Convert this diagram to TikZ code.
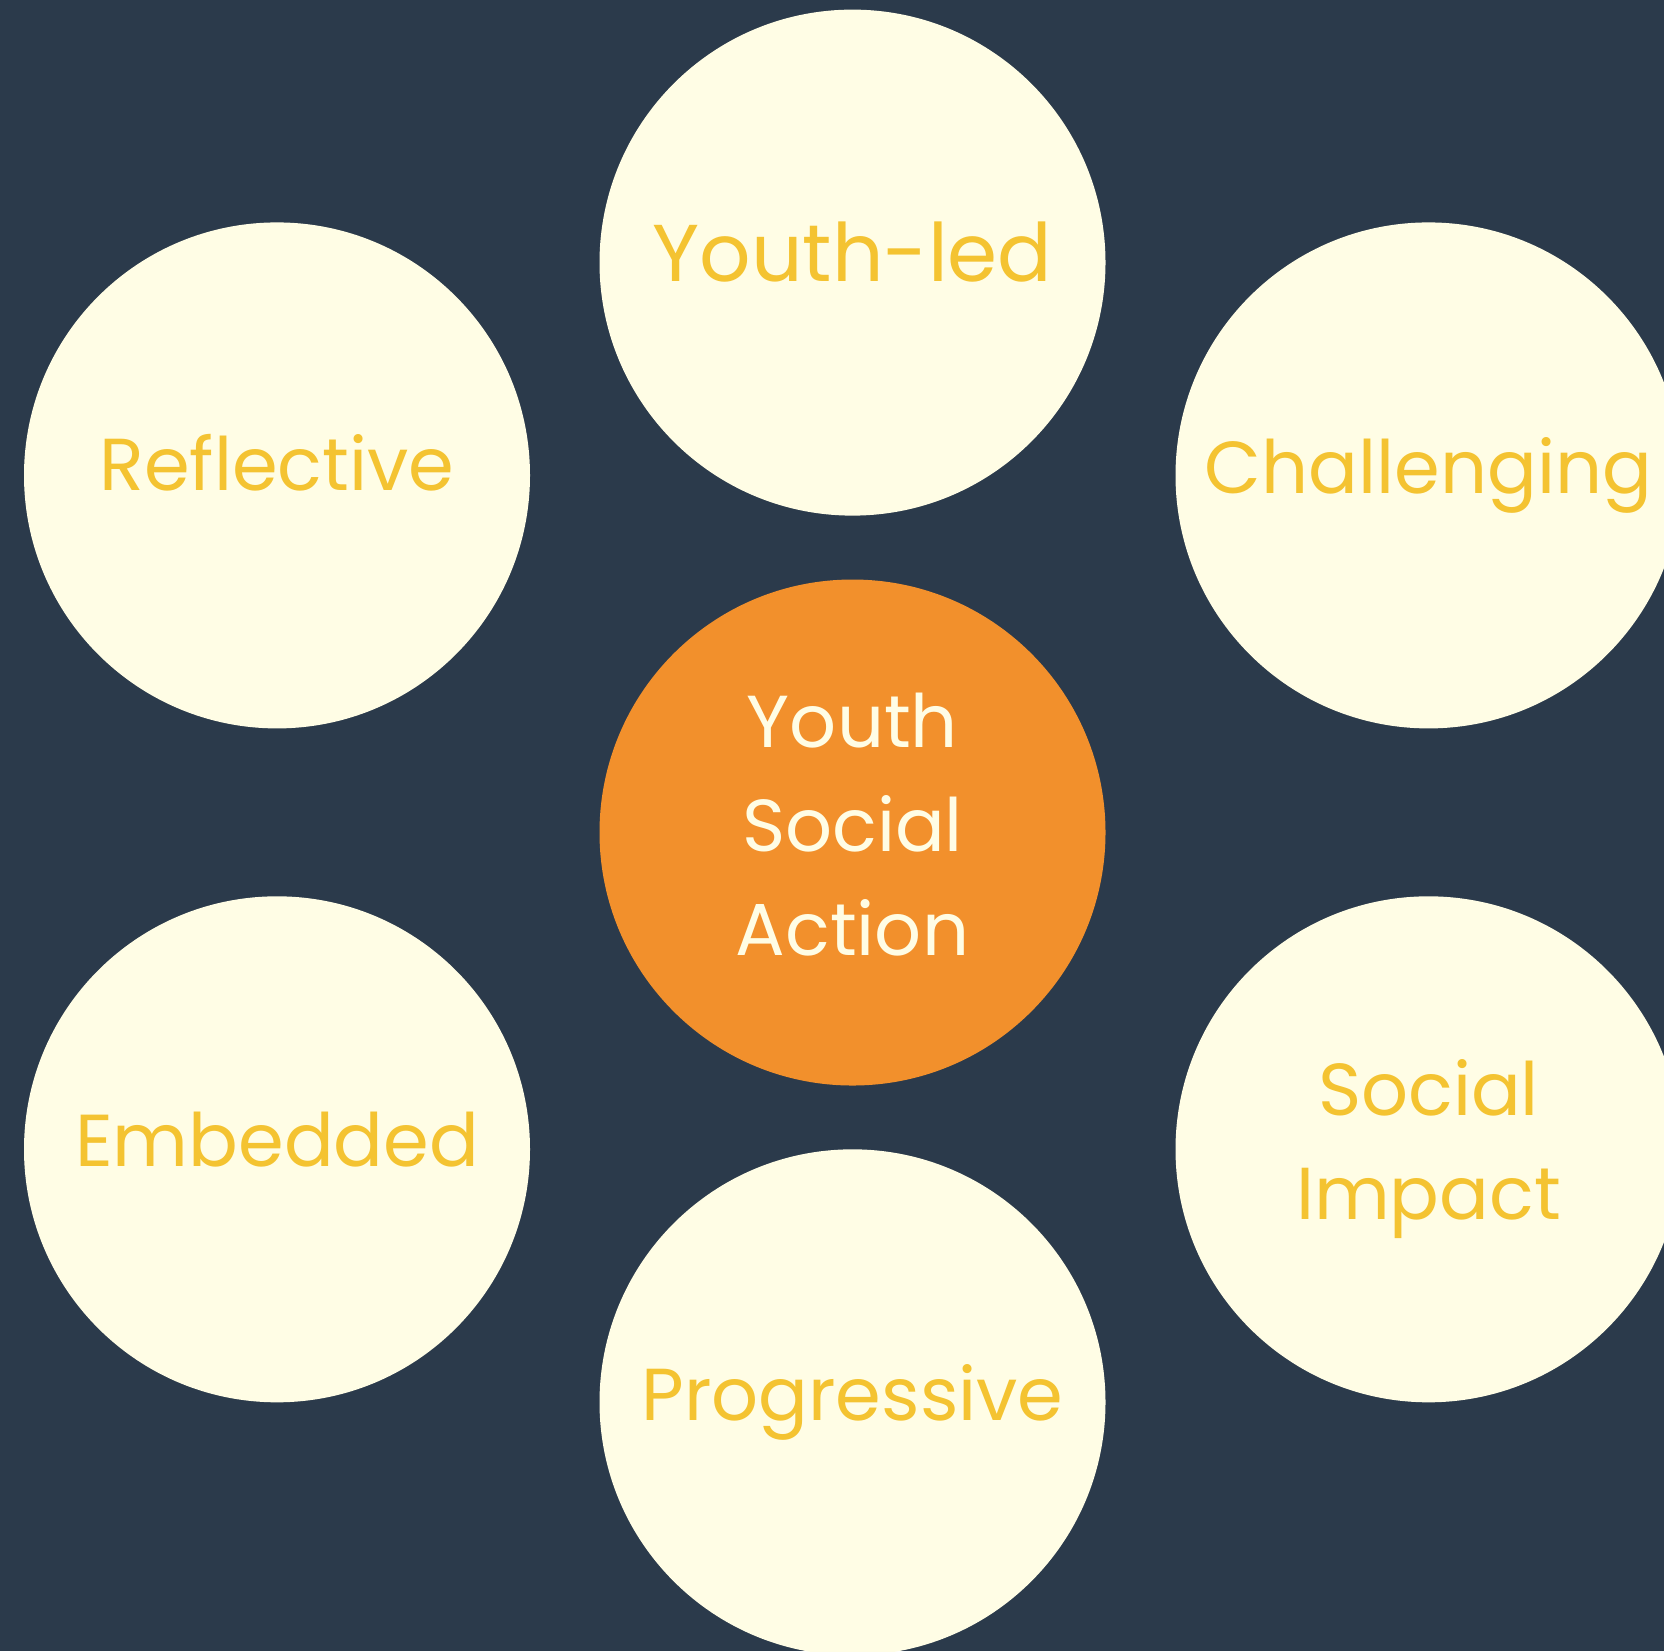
\documentclass[tikz,border=0pt]{standalone}
\usepackage{fontspec}
\setmainfont{Poppins}
\definecolor{bgnavy}{HTML}{2B3A4B}
\definecolor{cream}{HTML}{FFFDE5}
\definecolor{gold}{HTML}{F4C331}
\definecolor{pumpkin}{HTML}{F2902C}
\def\diam{253pt}
\tikzset{
  bubble/.style={circle, fill=cream, minimum size=\diam, inner sep=0pt},
  hub/.style={bubble, fill=pumpkin},
  lbl/.style={text=gold, anchor=base, align=center,
    font=\fontsize{36.8}{52}\selectfont},
}

\begin{document}
\begin{tikzpicture}[x=0.5pt, y=-0.5pt]
  \useasboundingbox (0,0) rectangle (1664,1651);
  \clip (0,0) rectangle (1664,1651);
  \fill[bgnavy] (0,0) rectangle (1664,1651);        % Background
  % Centre circle
  \node[hub] (hub) at (852.5,832.5) {};
  \node[lbl, text=cream] (hub-text) at ([yshift=-61.25pt]hub.center)
    {Youth\\Social\\Action};                        % base = last line
  % Outer circles and their labels
  \foreach \x/\y/\name/\label/\shift/\size in {
      852.5/262.6/youthled/Youth-led/-9.2/40.3,
      277/475.4/reflective/Reflective/-7.5/36.8,
      1428.5/475.4/challenging/Challenging/-9/36.8,
      277/1149.3/embedded/Embedded/-8.7/36.8,
      1428.5/1149.3/impact/{Social\\Impact}/-34.85/36.8,
      852.5/1402.3/progressive/Progressive/-9.3/36.8
    } {
      \node[bubble] (\name) at (\x,\y) {};
      \node[lbl, font=\fontsize{\size}{52}\selectfont] (\name-text)
        at ([yshift=\shift pt]\name.center) {\label};
    };
\end{tikzpicture}
\end{document}
